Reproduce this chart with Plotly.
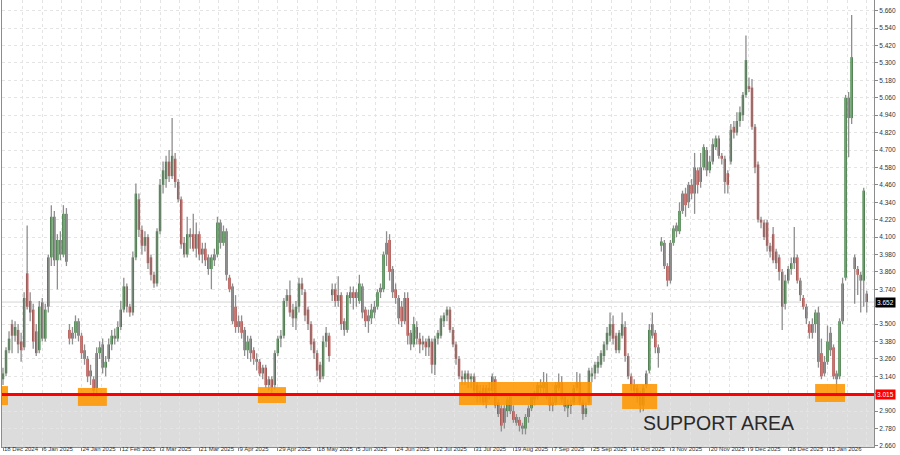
import plotly.graph_objects as go

# ---------------- data ----------------
open_ = [
3.12,3.16,3.32,3.50,3.42,3.46,3.38,3.34,3.85,3.66,
3.60,3.45,3.32,3.65,3.40,3.62,3.96,4.24,3.94,4.08,
3.98,4.26,3.46,3.40,3.44,3.52,3.42,3.32,3.26,3.14,
3.12,3.06,3.30,3.36,3.20,3.26,3.36,3.42,3.40,3.48,
3.60,3.76,3.62,3.58,3.96,4.36,4.15,4.04,4.10,3.96,
3.84,3.78,4.14,4.46,4.50,4.62,4.52,4.64,4.48,4.36,
4.06,3.98,4.12,4.12,4.02,4.12,3.98,4.02,3.96,3.88,
3.94,3.98,4.20,4.06,4.14,3.82,3.76,3.62,3.48,3.52,
3.46,3.32,3.40,3.32,3.26,3.24,3.16,3.20,3.08,3.12,
3.08,3.30,3.40,3.42,3.66,3.70,3.60,3.54,3.62,3.78,
3.72,3.60,3.50,3.38,3.30,3.22,3.14,3.38,3.42,3.70,
3.74,3.66,3.70,3.52,3.46,3.68,3.72,3.68,3.66,3.76,
3.60,3.52,3.54,3.58,3.62,3.72,3.74,3.98,4.08,3.88,
3.74,3.68,3.62,3.52,3.68,3.44,3.36,3.48,3.40,3.36,
3.38,3.34,3.38,3.22,3.40,3.42,3.52,3.56,3.60,3.46,
3.36,3.26,3.14,3.12,3.16,3.12,3.14,3.08,3.00,3.06,
2.96,3.06,3.04,3.12,2.96,2.92,2.82,2.90,3.00,2.90,
2.86,2.84,2.80,2.78,2.86,2.92,2.98,3.00,3.08,3.06,
3.10,3.00,2.94,2.96,3.06,3.10,3.00,2.92,2.95,2.96,
3.06,3.10,2.96,2.88,2.96,3.14,3.16,3.20,3.22,3.28,
3.36,3.42,3.50,3.42,3.32,3.42,3.48,3.28,3.14,3.08,
3.06,3.02,2.94,3.08,3.18,3.50,3.44,3.34,4.04,4.06,
3.90,3.80,4.06,4.18,4.14,4.28,4.40,4.34,4.46,4.40,
4.56,4.48,4.58,4.70,4.56,4.62,4.72,4.78,4.66,4.64,
4.54,4.62,4.86,4.82,4.90,4.94,5.08,5.14,5.13,4.86,
4.60,4.22,4.20,4.20,4.04,4.12,4.00,3.96,3.86,3.64,
3.80,3.88,3.92,3.96,3.80,3.68,3.62,3.50,3.44,3.50,
3.58,3.30,3.16,3.24,3.44,3.34,3.16,3.14,3.52,3.82,
5.06,4.92,3.96,3.88,3.84,3.80,3.71]

high = [
3.20,3.34,3.45,3.53,3.52,3.50,3.44,3.72,4.18,3.72,
3.64,3.50,3.66,3.68,3.64,3.98,4.32,4.28,4.12,4.14,
4.32,4.30,3.50,3.48,3.56,3.54,3.44,3.36,3.28,3.22,
3.14,3.34,3.38,3.40,3.28,3.40,3.46,3.47,3.52,3.66,
3.82,3.78,3.64,4.00,4.47,4.40,4.18,4.14,4.12,3.98,
3.86,4.16,4.50,4.62,4.66,4.70,4.92,4.68,4.50,4.38,
4.10,4.24,4.16,4.26,4.20,4.14,4.06,4.06,3.98,3.98,
4.02,4.24,4.22,4.18,4.16,3.84,3.78,3.70,3.56,3.56,
3.48,3.42,3.42,3.34,3.30,3.26,3.22,3.22,3.14,3.14,
3.32,3.42,3.46,3.68,3.74,3.80,3.64,3.66,3.82,3.82,
3.74,3.62,3.52,3.40,3.32,3.24,3.42,3.48,3.44,3.78,
3.78,3.83,3.72,3.54,3.72,3.76,3.76,3.74,3.84,3.78,
3.62,3.60,3.64,3.66,3.74,3.78,4.00,4.14,4.12,3.90,
3.78,3.70,3.66,3.72,3.72,3.46,3.55,3.52,3.44,3.42,
3.40,3.42,3.40,3.42,3.46,3.56,3.58,3.62,3.62,3.48,
3.38,3.28,3.18,3.18,3.18,3.16,3.16,3.10,3.08,3.08,
3.08,3.10,3.16,3.14,2.98,2.94,2.94,3.00,3.02,2.94,
2.88,2.86,2.82,2.88,2.94,3.02,3.04,3.10,3.12,3.17,
3.16,3.02,3.00,3.10,3.16,3.14,3.02,2.98,2.98,3.08,
3.17,3.16,2.98,2.96,3.20,3.20,3.24,3.28,3.32,3.38,
3.48,3.58,3.56,3.44,3.46,3.58,3.52,3.30,3.16,3.12,
3.08,3.04,3.08,3.18,3.50,3.58,3.46,3.36,4.10,4.08,
3.92,4.08,4.18,4.20,4.34,4.42,4.44,4.48,4.50,4.68,
4.58,4.68,4.74,4.72,4.66,4.78,4.80,4.80,4.68,4.66,
4.56,4.88,4.90,4.96,5.00,5.10,5.49,5.20,5.19,4.88,
4.62,4.24,4.22,4.22,4.06,4.17,4.02,3.98,3.88,3.84,
3.90,3.96,4.17,3.98,3.82,3.70,3.64,3.52,3.54,3.60,
3.62,3.40,3.28,3.49,3.48,3.36,3.18,3.54,3.82,5.08,
5.10,5.63,3.98,3.90,3.86,4.44,3.73]

low = [
3.08,3.14,3.30,3.30,3.38,3.30,3.24,3.32,3.60,3.52,
3.33,3.28,3.30,3.38,3.38,3.58,3.90,3.90,3.74,3.94,
3.96,3.90,3.36,3.36,3.40,3.38,3.26,3.22,3.10,3.08,
3.00,3.00,3.26,3.16,3.14,3.24,3.32,3.36,3.38,3.46,
3.58,3.58,3.55,3.56,3.94,4.10,3.98,4.00,3.88,3.80,
3.75,3.76,4.12,4.40,4.44,4.48,4.50,4.44,4.34,4.02,
3.96,3.96,4.02,4.00,3.96,3.94,3.92,3.90,3.84,3.74,
3.90,3.96,4.02,4.04,3.80,3.72,3.50,3.44,3.44,3.40,
3.28,3.26,3.24,3.22,3.18,3.14,3.12,3.06,3.04,3.01,
3.05,3.28,3.34,3.40,3.62,3.55,3.48,3.46,3.58,3.70,
3.52,3.46,3.32,3.26,3.14,3.10,3.12,3.34,3.24,3.66,
3.62,3.62,3.46,3.42,3.44,3.64,3.60,3.62,3.64,3.54,
3.48,3.44,3.50,3.54,3.60,3.68,3.72,3.90,3.80,3.68,
3.64,3.50,3.48,3.50,3.36,3.32,3.34,3.36,3.30,3.32,
3.28,3.28,3.16,3.15,3.36,3.40,3.48,3.52,3.44,3.34,
3.22,3.12,3.08,3.08,3.06,3.06,3.00,2.96,2.96,2.94,
2.92,2.98,3.00,2.92,2.86,2.76,2.78,2.86,2.88,2.82,
2.80,2.76,2.74,2.74,2.82,2.90,2.94,2.98,3.02,3.02,
2.98,2.90,2.90,2.94,3.04,2.96,2.90,2.86,2.88,2.94,
3.04,2.94,2.84,2.86,2.94,3.10,3.12,3.16,3.20,3.24,
3.32,3.38,3.36,3.30,3.30,3.40,3.24,3.12,3.04,3.00,
2.96,2.89,2.90,3.06,3.16,3.40,3.30,3.20,4.00,3.88,
3.76,3.78,4.04,4.10,4.12,4.26,4.24,4.30,4.36,4.26,
4.40,4.44,4.56,4.52,4.54,4.60,4.70,4.64,4.60,4.40,
4.40,4.60,4.78,4.80,4.86,4.90,5.06,5.10,4.84,4.54,
4.20,4.16,4.08,4.00,3.96,3.92,3.88,3.80,3.46,3.60,
3.78,3.84,3.88,3.78,3.66,3.60,3.50,3.40,3.40,3.44,
3.20,3.12,3.14,3.22,3.28,3.12,3.01,3.12,3.50,3.80,
4.65,4.88,3.64,3.70,3.58,3.62,3.58]

close = [
3.16,3.32,3.40,3.42,3.48,3.36,3.32,3.68,3.62,3.58,
3.38,3.30,3.62,3.40,3.60,3.96,4.24,3.94,4.08,3.98,
4.26,3.93,3.40,3.44,3.52,3.42,3.30,3.26,3.14,3.18,
3.04,3.30,3.34,3.20,3.24,3.36,3.42,3.40,3.48,3.60,
3.76,3.62,3.58,3.96,4.40,4.15,4.04,4.10,3.92,3.84,
3.78,4.14,4.46,4.56,4.62,4.52,4.66,4.48,4.36,4.05,
3.98,4.12,4.10,4.02,4.12,3.98,4.02,3.94,3.88,3.96,
3.98,4.20,4.06,4.14,3.84,3.74,3.52,3.48,3.52,3.44,
3.32,3.38,3.30,3.26,3.24,3.16,3.20,3.08,3.12,3.06,
3.30,3.40,3.42,3.66,3.70,3.58,3.54,3.62,3.78,3.74,
3.56,3.50,3.36,3.30,3.18,3.12,3.38,3.44,3.28,3.74,
3.66,3.70,3.50,3.46,3.70,3.72,3.68,3.72,3.78,3.58,
3.52,3.56,3.60,3.62,3.72,3.75,3.98,4.06,3.86,3.72,
3.68,3.54,3.52,3.68,3.42,3.36,3.50,3.40,3.36,3.38,
3.34,3.40,3.22,3.40,3.44,3.54,3.56,3.60,3.46,3.36,
3.26,3.14,3.12,3.16,3.12,3.14,3.04,3.00,3.04,2.96,
3.06,3.04,3.14,2.94,2.88,2.80,2.92,2.98,2.90,2.84,
2.82,2.80,2.78,2.86,2.92,3.00,3.02,3.08,3.06,3.10,
3.00,2.94,2.96,3.08,3.10,2.98,2.93,2.95,2.94,3.06,
3.10,2.96,2.88,2.92,3.18,3.16,3.22,3.24,3.30,3.36,
3.44,3.50,3.40,3.32,3.44,3.50,3.28,3.14,3.08,3.04,
3.00,2.94,3.06,3.16,3.46,3.42,3.34,3.30,4.07,3.90,
3.80,4.06,4.16,4.14,4.28,4.40,4.32,4.46,4.40,4.58,
4.46,4.58,4.72,4.56,4.62,4.74,4.78,4.66,4.64,4.48,
4.46,4.84,4.82,4.90,4.96,5.08,5.32,5.12,4.86,4.58,
4.22,4.20,4.10,4.04,4.00,3.94,3.92,3.86,3.62,3.80,
3.88,3.92,3.96,3.80,3.70,3.62,3.54,3.44,3.50,3.58,
3.24,3.14,3.24,3.38,3.32,3.14,3.12,3.52,3.78,5.06,
4.92,5.34,3.88,3.84,3.80,4.42,3.652]

tick_bars = [0, 13, 26, 39, 52, 65, 78, 91, 104, 117, 130, 143, 156, 169,
             182, 195, 208, 221, 234, 247, 260, 273]
tick_labels = ["18 Dec 2024", "6 Jan 2025", "24 Jan 2025", "12 Feb 2025",
               "3 Mar 2025", "21 Mar 2025", "9 Apr 2025", "29 Apr 2025",
               "18 May 2025", "5 Jun 2025", "24 Jun 2025", "12 Jul 2025",
               "31 Jul 2025", "19 Aug 2025", "7 Sep 2025", "25 Sep 2025",
               "14 Oct 2025", "3 Nov 2025", "20 Nov 2025", "9 Dec 2025",
               "28 Dec 2025", "15 Jan 2026"]
price_ticks = [2.66, 2.78, 2.90, 3.02, 3.14, 3.26, 3.38, 3.50, 3.62, 3.74,
               3.86, 3.98, 4.10, 4.22, 4.34, 4.46, 4.58, 4.70, 4.82, 4.94,
               5.06, 5.18, 5.30, 5.42, 5.54, 5.66]

support_level = 3.015
last_price = close[-1]

# touch zones: (first bar, last bar, low price, high price)
zone_start = [-0.33, 24.8, 84.4, 151.0, 205.0, 268.9]
zone_end = [1.66, 34.4, 93.7, 195.0, 216.6, 278.8]
zone_low = [2.942, 2.936, 2.956, 2.942, 2.915, 2.963]
zone_high = [3.073, 3.060, 3.066, 3.101, 3.087, 3.087]

# ---------------- figure ----------------
GREEN = "#1f6e22"
RED = "#b3302a"
WICK = "#8e8e8e"
GRID = "#e4e4e4"
FONT = "Liberation Sans, Arial"

bars = list(range(len(close)))
wick_x, wick_y = [], []
for i in bars:
    wick_x += [i, i, None]
    wick_y += [low[i], high[i], None]

body_base = [min(o, c) for o, c in zip(open_, close)]
body_h = [max(abs(c - o), 0.008) for o, c in zip(open_, close)]
body_col = [GREEN if c >= o else RED for o, c in zip(open_, close)]

Y0, Y1 = 2.653, 5.734
X0, X1 = -0.33, 288.4

# price labels hidden behind the marker boxes on the right axis
covered = {3.02, 3.62}
price_text = ["" if round(v, 2) in covered else f"{v:.3f}" for v in price_ticks]

fig = go.Figure()
fig.add_trace(go.Scatter(x=wick_x, y=wick_y, mode="lines",
                         line=dict(color=WICK, width=1.3),
                         hoverinfo="skip", showlegend=False))
fig.add_trace(go.Bar(x=bars, y=body_h, base=body_base, width=0.8,
                     marker=dict(color=body_col, line=dict(width=0)),
                     showlegend=False))

shapes = [
    dict(type="rect", xref="paper", x0=0, x1=1, yref="y", y0=Y0, y1=support_level,
         fillcolor="#dcdcdc", line=dict(width=0), layer="below"),
    dict(type="line", xref="paper", x0=0, x1=1, yref="y", y0=last_price, y1=last_price,
         line=dict(color="#d4d4d4", width=1), layer="between"),
]
for xs, xe, lo, hi in zip(zone_start, zone_end, zone_low, zone_high):
    shapes.append(dict(type="rect", xref="x", yref="y", x0=xs, x1=xe, y0=lo, y1=hi,
                       fillcolor="rgba(255,150,0,0.88)", line=dict(width=0),
                       layer="above"))
shapes.append(dict(type="line", xref="paper", x0=0, x1=1, yref="y",
                   y0=support_level, y1=support_level,
                   line=dict(color="#ff0000", width=3), layer="above"))

annotations = [
    dict(x=236.8, y=2.818, xref="x", yref="y", text="SUPPORT AREA",
         showarrow=False, font=dict(family=FONT, size=19.5, color="#2a2a2a")),
    dict(x=1, xref="paper", y=support_level, yref="y", xanchor="left", xshift=1,
         text=f"{support_level:.3f}", showarrow=False, bgcolor="#ff0000",
         borderpad=1, font=dict(family=FONT, size=6.5, color="white")),
    dict(x=1, xref="paper", y=last_price, yref="y", xanchor="left", xshift=1,
         text=f"{last_price:.3f}", showarrow=False, bgcolor="#000000",
         borderpad=1, font=dict(family=FONT, size=6.5, color="white")),
]

fig.update_layout(
    width=900, height=455,
    margin=dict(l=2, r=26, t=0, b=8),
    paper_bgcolor="white", plot_bgcolor="white",
    barmode="overlay", showlegend=False,
    shapes=shapes, annotations=annotations,
    font=dict(family=FONT, color="#333333"),
    xaxis=dict(range=[X0, X1], tickmode="array", tickvals=tick_bars,
               ticktext=tick_labels, ticks="outside", ticklen=3,
               tickcolor="#888888", ticklabelposition="outside right",
               ticklabelstandoff=-4, tickangle=0,
               tickfont=dict(size=6, color="#333333"),
               showgrid=True, gridcolor=GRID, griddash="dot", gridwidth=1,
               minor=dict(tick0=0, dtick=6.5, showgrid=True, gridcolor=GRID,
                          griddash="dot", ticks=""),
               showline=True, linecolor="#8c8c8c", linewidth=1,
               zeroline=False, automargin=False, fixedrange=True),
    yaxis=dict(side="right", range=[Y0, Y1], tickmode="array",
               tickvals=price_ticks, ticktext=price_text, ticks="outside",
               ticklen=3, tickcolor="#888888",
               tickfont=dict(size=6.5, color="#333333"),
               showgrid=True, gridcolor=GRID, griddash="dot", gridwidth=1,
               showline=True, mirror=True, linecolor="#8c8c8c", linewidth=1,
               zeroline=False, automargin=False, fixedrange=True),
)

fig.write_html("out.html",
               config={"displayModeBar": False},
               post_script="document.body.style.margin='0';"
                           "document.body.style.overflow='hidden';")
